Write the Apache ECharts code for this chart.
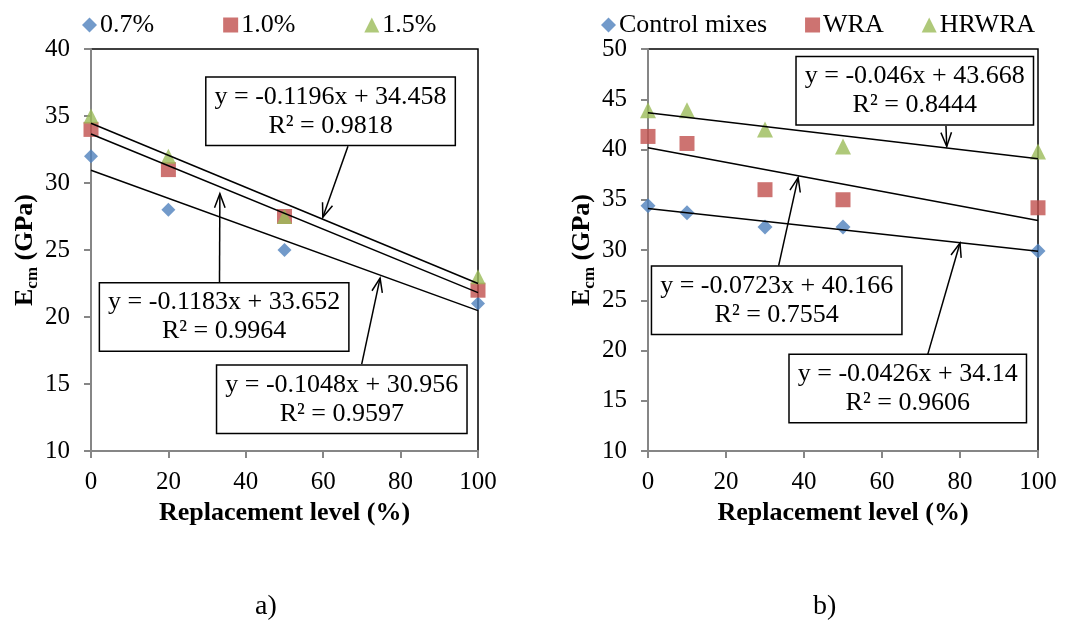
<!DOCTYPE html>
<html>
<head>
<meta charset="utf-8">
<script src="https://cdn.jsdelivr.net/npm/echarts@6/dist/echarts.min.js"></script>
<style>
  html, body { margin: 0; padding: 0; background: #fff; }
  #chart { width: 1080px; height: 632px; }
</style>
</head>
<body>
<div id="chart"></div>
<script>
// chart a) - fibre content
var levelsA = [0, 20, 50, 100]
var namesA = ['0.7%', '1.0%', '1.5%']
var ecm07 = [32, 28, 25, 21]
var ecm10 = [34, 31, 27.5, 22]
var ecm15 = [35, 32, 27.5, 23]
var slopeA = [-0.1048, -0.1183, -0.1196]
var interceptA = [30.956, 33.652, 34.458]
var r2A = ['0.9597', '0.9964', '0.9818']

// chart b) - admixtures
var levelsB = [0, 10, 30, 50, 100]
var namesB = ['Control mixes', 'WRA', 'HRWRA']
var ecmControl = [34.4, 33.7, 32.3, 32.3, 29.9]
var ecmWRA = [41.3, 40.6, 36, 35, 34.2]
var ecmHRWRA = [43.9, 43.9, 42, 40.3, 39.8]
var slopeB = [-0.0426, -0.0723, -0.046]
var interceptB = [34.14, 40.166, 43.668]
var r2B = ['0.9606', '0.7554', '0.8444']

var xTicks = [0, 100, 20]
var yTicksA = [10, 40, 5]
var yTicksB = [10, 50, 5]

var colors = ['#4F81BD', '#C0504D', '#9BBB59']
var symbols = ['diamond', 'rect', 'triangle']
var serif = "'Liberation Serif', 'Times New Roman', serif"

// label box centre, arrow start, arrow tip (data coords), in trend order
var notePosA = [
  [64.8, 13.86, 69.95, 16.48, 74.7, 22.9],
  [34.4, 20.0, 33.2, 22.58, 33.3, 29.2],
  [61.9, 35.35, 66.4, 32.75, 59.9, 27.45]
]
var notePosB = [
  [66.6, 16.22, 71.75, 19.64, 80.0, 30.7],
  [33.0, 24.99, 33.5, 28.44, 38.5, 37.2],
  [68.4, 45.84, 76.4, 42.35, 76.6, 40.3]
]

function pairs(xs, ys) {
  return xs.map(function (x, i) { return [x, ys[i]] })
}

function eqText(m, b, r2) {
  return 'y = ' + m + 'x + ' + b + '\nR² = ' + r2
}

function noteRenderer(texts) {
  return function (params, api) {
    var c = api.coord([api.value(0), api.value(1)])
    var p0 = api.coord([api.value(2), api.value(3)])
    var p1 = api.coord([api.value(4), api.value(5)])
    var ang = Math.atan2(p0[1] - p1[1], p0[0] - p1[0])
    var h = 15, a = 0.36
    var w1 = [p1[0] + h * Math.cos(ang + a), p1[1] + h * Math.sin(ang + a)]
    var w2 = [p1[0] + h * Math.cos(ang - a), p1[1] + h * Math.sin(ang - a)]
    return {
      type: 'group',
      children: [
        { type: 'line', shape: { x1: p0[0], y1: p0[1], x2: p1[0], y2: p1[1] },
          style: { stroke: '#000', lineWidth: 1.5 } },
        { type: 'polyline', shape: { points: [w1, p1, w2] },
          style: { stroke: '#000', fill: null, lineWidth: 1.5 } },
        { type: 'text', x: c[0], y: c[1],
          style: {
            text: texts[params.dataIndex],
            align: 'center', verticalAlign: 'middle',
            fontFamily: serif, fontSize: 26, lineHeight: 29, fill: '#000',
            backgroundColor: '#fff', borderColor: '#000', borderWidth: 1.5,
            padding: [5, 8, 4, 8]
          } }
      ]
    }
  }
}

function xAxisOf(idx) {
  return {
    type: 'value', gridIndex: idx,
    min: xTicks[0], max: xTicks[1], interval: xTicks[2],
    name: 'Replacement level (%)', nameLocation: 'middle', nameGap: 47,
    nameTextStyle: { fontFamily: serif, fontSize: 26, fontWeight: 'bold', color: '#000' },
    axisLine: { show: true, lineStyle: { color: '#868686', width: 2 } },
    axisTick: { show: true, inside: false, length: 7, lineStyle: { color: '#868686', width: 2 } },
    axisLabel: { fontFamily: serif, fontSize: 25, color: '#000', margin: 19 },
    splitLine: { show: false }
  }
}

function yAxisOf(idx, t) {
  return {
    type: 'value', gridIndex: idx,
    min: t[0], max: t[1], interval: t[2],
    name: '{e|E}{s|cm}{e| (GPa)}', nameLocation: 'middle', nameGap: 50,
    nameTextStyle: {
      rich: {
        e: { fontFamily: serif, fontSize: 26, fontWeight: 'bold', color: '#000', lineHeight: 32 },
        s: { fontFamily: serif, fontSize: 17, fontWeight: 'bold', color: '#000', verticalAlign: 'bottom', lineHeight: 20 }
      }
    },
    axisLine: { show: true, lineStyle: { color: '#868686', width: 2 } },
    axisTick: { show: true, inside: false, length: 7, lineStyle: { color: '#868686', width: 2 } },
    axisLabel: { fontFamily: serif, fontSize: 25, color: '#000', margin: 21 },
    splitLine: { show: false }
  }
}

function scatterOf(name, idx, xs, ys, k, size) {
  return {
    name: name, type: 'scatter', xAxisIndex: idx, yAxisIndex: idx,
    symbol: symbols[k], symbolSize: size[k],
    itemStyle: { color: colors[k] },
    data: pairs(xs, ys), z: 3
  }
}

function trendOf(idx, m, b) {
  return {
    type: 'line', xAxisIndex: idx, yAxisIndex: idx,
    showSymbol: false, symbol: 'none', silent: true,
    lineStyle: { color: '#000', width: 1.5 },
    data: [[xTicks[0], b + m * xTicks[0]], [xTicks[1], b + m * xTicks[1]]],
    z: 4
  }
}

var sizeA = [14, 15, 15]
var sizeB = [15, 15, 16]

var series = [
  scatterOf(namesA[0], 0, levelsA, ecm07, 0, sizeA),
  scatterOf(namesA[1], 0, levelsA, ecm10, 1, sizeA),
  scatterOf(namesA[2], 0, levelsA, ecm15, 2, sizeA),
  scatterOf(namesB[0], 1, levelsB, ecmControl, 0, sizeB),
  scatterOf(namesB[1], 1, levelsB, ecmWRA, 1, sizeB),
  scatterOf(namesB[2], 1, levelsB, ecmHRWRA, 2, sizeB)
]
for (var i = 0; i < 3; i++) {
  series.push(trendOf(0, slopeA[i], interceptA[i]))
  series.push(trendOf(1, slopeB[i], interceptB[i]))
}
series.push({
  type: 'custom', xAxisIndex: 0, yAxisIndex: 0, clip: false, silent: true, z: 6,
  encode: { x: 0, y: 1 },
  renderItem: noteRenderer(slopeA.map(function (m, i) { return eqText(m, interceptA[i], r2A[i]) })),
  data: notePosA
})
series.push({
  type: 'custom', xAxisIndex: 1, yAxisIndex: 1, clip: false, silent: true, z: 6,
  encode: { x: 0, y: 1 },
  renderItem: noteRenderer(slopeB.map(function (m, i) { return eqText(m, interceptB[i], r2B[i]) })),
  data: notePosB
})

function legendOf(names, left, gap) {
  return {
    left: left, top: 7, itemGap: gap, itemWidth: 15, itemHeight: 15,
    textStyle: { fontFamily: serif, fontSize: 26, color: '#000', padding: [0, 0, 0, -2] },
    data: names.map(function (n, k) { return { name: n, icon: symbols[k] } })
  }
}

var chart = echarts.init(document.getElementById('chart'))
chart.setOption({
  animation: false,
  backgroundColor: '#fff',
  title: [
    { text: 'a)', left: 250, top: 588, textStyle: { fontFamily: serif, fontSize: 28, fontWeight: 'normal', color: '#000' } },
    { text: 'b)', left: 808, top: 588, textStyle: { fontFamily: serif, fontSize: 28, fontWeight: 'normal', color: '#000' } }
  ],
  legend: [legendOf(namesA, 77, 69), legendOf(namesB, 596, 38)],
  grid: [
    { left: 91, right: 602, top: 49, bottom: 181, show: true, borderColor: '#000', borderWidth: 1.5, backgroundColor: '#fff' },
    { left: 648, right: 42, top: 49, bottom: 181, show: true, borderColor: '#000', borderWidth: 1.5, backgroundColor: '#fff' }
  ],
  xAxis: [xAxisOf(0), xAxisOf(1)],
  yAxis: [yAxisOf(0, yTicksA), yAxisOf(1, yTicksB)],
  series: series
})
</script>
</body>
</html>
